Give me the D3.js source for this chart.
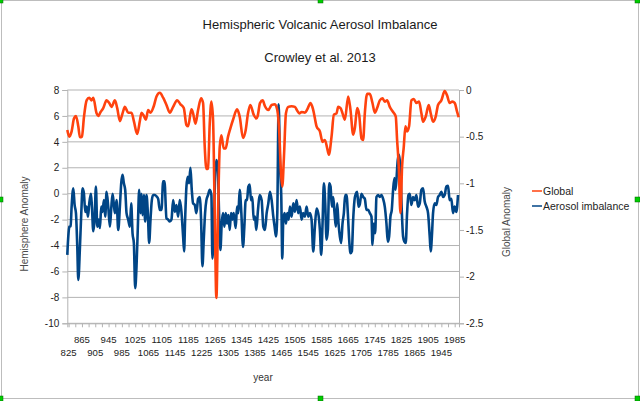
<!DOCTYPE html>
<html>
<head>
<meta charset="utf-8">
<script src="https://cdn.jsdelivr.net/npm/d3@7"></script>
<style>
  body { margin: 0; background: #fff; }
  svg { display: block; font-family: "Liberation Sans", Arial, sans-serif; }
</style>
</head>
<body>
<div id="chart"></div>
<script>
// Global series (right axis)
var globalYears = [821,827,834,841,847,854,859,865,871,879,887,894,899,909,914,921,929,939,947,954,964,971,979,987,994,
  1004,1014,1021,1031,1039,1044,1051,1057,1064,1071,1081,1089,1099,1109,1119,1129,1139,1151,1161,1171,1179,1184,1194,1199,
  1206,1214,1223,1229,1234,1239,1244,1249,1254,1259,1264,1269,1274,1279,1284,1291,1297,1304,1311,1319,1331,1339,1349,1357,
  1364,1371,1381,1389,1393,1400,1408,1415,1425,1435,1445,1452,1458,1463,1467,1472,1478,1485,1495,1505,1512,1518,1525,1535,
  1542,1552,1560,1570,1580,1588,1595,1602,1607,1615,1622,1630,1635,1642,1648,1655,1665,1672,1680,1685,1692,1698,1705,1710,
  1715,1722,1730,1738,1745,1752,1760,1768,1775,1782,1790,1800,1808,1812,1817,1822,1827,1832,1837,1842,1848,1855,1862,1870,
  1878,1885,1890,1898,1907,1913,1920,1928,1935,1945,1955,1962,1970,1978,1985,1992,1997];
var globalVals = [-0.428,-0.5,-0.444,-0.306,-0.278,-0.389,-0.507,-0.5,-0.292,-0.111,-0.083,-0.111,-0.083,-0.25,-0.278,-0.236,-0.194,-0.111,-0.139,-0.181,-0.111,-0.194,-0.333,-0.25,-0.181,
  -0.243,-0.243,-0.333,-0.472,-0.333,-0.243,-0.278,-0.319,-0.215,-0.243,-0.171,-0.069,-0.03,-0.083,-0.16,-0.243,-0.181,-0.111,-0.153,-0.194,-0.375,-0.389,-0.208,-0.25,
  -0.361,-0.215,-0.09,-0.139,-0.611,-0.847,-0.84,-0.361,-0.125,-0.319,-1.319,-2.229,-1.319,-0.611,-0.486,-0.625,-0.625,-0.5,-0.41,-0.319,-0.208,-0.285,-0.514,-0.431,
  -0.25,-0.16,-0.264,-0.306,-0.28,-0.14,-0.111,-0.174,-0.215,-0.16,-0.153,-0.215,-0.465,-0.889,-1.035,-0.715,-0.25,-0.181,-0.174,-0.181,-0.222,-0.25,-0.236,-0.243,
  -0.208,-0.139,-0.215,-0.389,-0.444,-0.556,-0.535,-0.625,-0.694,-0.5,-0.264,-0.25,-0.181,-0.194,-0.25,-0.319,-0.069,-0.215,-0.479,-0.41,-0.194,-0.264,-0.52,-0.535,
  -0.25,-0.042,-0.042,-0.139,-0.243,-0.194,-0.111,-0.09,-0.125,-0.111,-0.181,-0.236,-0.285,-0.535,-0.819,-1.319,-0.819,-0.611,-0.389,-0.444,-0.389,-0.111,-0.097,-0.139,
  -0.125,-0.25,-0.34,-0.285,-0.16,-0.25,-0.34,-0.285,-0.16,-0.111,-0.012,-0.056,-0.139,-0.125,-0.139,-0.229,-0.292];

// Aerosol imbalance series (left axis)
var aerosolYears = [821,824,827,831,834,839,843,847,851,854,859,863,867,871,875,879,883,887,892,895,899,903,907,911,915,919,923,927,931,935,939,944,949,953,957,961,964,969,974,979,983,987,991,995,999,
  1004,1009,1013,1017,1021,1025,1029,1033,1037,1041,1044,1047,1051,1055,1059,1063,1067,1071,1075,1079,1084,1089,1094,1099,1104,1109,1113,1119,1124,1129,1134,1139,1144,1149,1154,1159,1164,1169,1172,1175,1179,1183,1187,1191,1195,1199,
  1204,1209,1214,1219,1223,1227,1231,1235,1239,1244,1249,1254,1257,1261,1265,1269,1273,1277,1281,1285,1289,1293,1297,1301,1305,1309,1313,1317,1321,1327,1331,1335,1339,1344,1349,1353,1357,1361,1365,1369,1373,1377,1381,1385,1389,1394,1399,
  1405,1410,1415,1420,1425,1430,1435,1440,1444,1448,1452,1456,1460,1464,1467,1470,1474,1478,1482,1486,1490,1495,1500,1505,1510,1515,1520,1525,1530,1535,1540,1545,1550,1555,1560,1565,1570,1575,1580,1584,1588,1592,1596,
  1600,1604,1608,1612,1616,1620,1624,1628,1632,1636,1640,1644,1648,1652,1656,1660,1664,1668,1672,1676,1680,1684,1688,1692,1696,1700,1705,1710,1715,1720,1725,1730,1735,1738,1742,1746,1750,1755,1760,1765,1770,1775,1780,1784,1788,1792,1796,
  1800,1804,1807,1810,1814,1818,1822,1826,1830,1834,1838,1842,1846,1850,1855,1860,1865,1870,1875,1880,1885,1890,1895,1900,1905,1910,1913,1917,1920,1925,1930,1935,1940,1945,1950,1955,1960,1965,1970,1975,1980,1985,1990,1995];
var aerosolVals = [-4.72,-3.3,-2.55,-2.5,-1.0,0.42,-0.87,-1.5,-4.1,-6.65,-4.1,-1.5,0.42,0,-1.4,-1.0,-1.77,-0.75,0,-1.0,-2.9,-2.0,0.55,-2.55,-2.0,-2.65,-1.0,-1.4,-0.5,-1.77,0.15,-1.0,-2.55,-1.15,0,-0.87,-1.5,-0.5,-2.8,-1.0,0.8,1.45,0.8,0.3,-1.5,
  -2.0,-2.55,-0.75,-3.05,-3.8,-7.3,-5.6,-2.55,0.3,-1.5,0,-1.65,-0.1,-2.15,-0.1,-1.5,-3.8,-2.0,-0.5,-0.1,-0.1,-0.2,-0.4,-1.25,-1.25,0.95,0.95,-1.9,-2.0,-2.15,-2.0,-0.5,-1.4,-0.87,-1.77,-0.5,-1.4,-3.3,-4.45,-2.0,0.55,1.3,0.8,2.0,0.3,-0.75,
  -0.87,-1.5,-0.4,-0.25,-2.0,-5.6,-3.55,-1.5,-0.5,-0.1,0.3,-0.1,-5.0,-2.8,1.3,2.6,2.1,-1.5,-4.35,-2.3,-1.5,-2.55,-1.5,-2.3,-1.65,-2.8,-1.5,-2.0,-1.5,-2.65,-1.0,-1.5,0.3,-1.5,-4.1,-2.55,-0.5,-0.5,0.55,0.7,-0.5,-0.25,-2.0,-1.77,-2.8,-1.25,-0.1,
  -0.5,-2.55,-2.8,-1.5,-0.75,0.15,-0.5,-1.77,-2.55,-3.3,-1.5,6.9,2.35,-0.25,-5.0,-2.0,-1.5,-2.3,-1.5,-2.0,-1.0,-1.77,-0.75,-1.4,-0.5,-1.5,-1.0,-2.0,-1.5,-1.77,-1.0,-1.77,-1.5,-2.0,-4.45,-2.55,-1.15,-1.5,-2.8,-4.72,-2.3,0.8,-0.75,
  -3.55,-2.8,0.8,0.55,-1.0,-0.25,-1.5,-2.55,-0.75,-2.3,-3.3,-3.8,-2.3,-1.5,-0.1,-0.1,-1.5,-3.55,-4.6,-4.45,-2.0,-0.5,0,0.15,-1.0,-0.8,0,-0.25,-0.4,-1.25,-1.25,-1.5,-1.77,-3.95,-2.3,-3.05,-0.25,-0.1,-0.25,-0.1,-0.4,-1.0,-2.3,-3.7,-3.3,-1.77,-1.25,
  0.3,1.2,0.3,1.05,2.6,3.0,1.85,-1.25,-3.3,-3.7,-3.8,-1.5,-0.1,0,-0.87,-0.25,-0.5,-0.1,-1.0,-0.75,0.3,0.42,-0.6,-1.0,-1.5,-3.3,-4.45,-3.05,-1.5,-0.75,-0.87,-0.25,-0.1,0.15,-0.25,-0.1,0.55,0.6,-0.5,-0.4,-1.5,-1.0,-1.4,-0.1];

var leftTicks = [8, 6, 4, 2, 0, -2, -4, -6, -8, -10];
var rightTicks = [0, -0.5, -1, -1.5, -2, -2.5];
var yearLabels = d3.range(825, 1986, 40);
var yearMinor = d3.range(825, 1999, 20);

var width = 640, height = 401;
var plot = { left: 67.3, right: 459, top: 90, bottom: 323.3 };

var svg = d3.select("#chart").append("svg")
    .attr("width", width)
    .attr("height", height);

var x = d3.scaleLinear().domain([821, 1998]).range([plot.left, plot.right]);
var yL = d3.scaleLinear().domain([-10, 8]).range([plot.bottom, plot.top]);
var yR = d3.scaleLinear().domain([-2.5, 0]).range([plot.bottom, plot.top]);

// frame of the chart object
svg.append("rect")
    .attr("x", 1.5).attr("y", 0.5)
    .attr("width", 637).attr("height", 398)
    .attr("fill", "none").attr("stroke", "#bdbdbd");

// gridlines
svg.append("g").selectAll("line")
    .data(leftTicks)
    .enter().append("line")
    .attr("x1", plot.left).attr("x2", plot.right)
    .attr("y1", function(d) { return yL(d); })
    .attr("y2", function(d) { return yL(d); })
    .attr("stroke", "#b3b3b3");

// left axis
var gLeft = svg.append("g")
    .attr("transform", "translate(" + plot.left + ",0)")
    .call(d3.axisLeft(yL).tickValues(leftTicks).tickSize(5).tickPadding(3));

// right axis
var gRight = svg.append("g")
    .attr("transform", "translate(" + plot.right + ",0)")
    .call(d3.axisRight(yR).tickValues(rightTicks).tickSize(5).tickPadding(2)
        .tickFormat(function(d) { return d === 0 ? "0" : String(d).replace("\u2212", "-"); }));

// bottom minor ticks
var gBottom = svg.append("g")
    .attr("transform", "translate(0," + plot.bottom + ")")
    .call(d3.axisBottom(x).tickValues(yearMinor).tickSize(4).tickFormat(""));

[gLeft, gRight, gBottom].forEach(function(g) {
    g.select(".domain").attr("stroke", "#b3b3b3");
    g.selectAll(".tick line").attr("stroke", "#b3b3b3");
    g.selectAll(".tick text")
        .attr("fill", "#222")
        .style("font-family", "'Liberation Sans', Arial, sans-serif")
        .style("font-size", "10px");
});
gLeft.selectAll(".tick text").text(function(d) { return String(d); });

// year labels on two staggered rows
svg.append("g").selectAll("text")
    .data(yearLabels)
    .enter().append("text")
    .attr("x", function(d) { return x(d); })
    .attr("y", function(d, i) { return i % 2 === 0 ? 356 : 343; })
    .attr("text-anchor", "middle")
    .attr("font-size", "9.6px")
    .attr("fill", "#222")
    .text(function(d) { return d; });

// series
var blueLine = d3.line()
    .x(function(d) { return x(d[0]); })
    .y(function(d) { return yL(d[1]); })
    .curve(d3.curveMonotoneX);
var redLine = d3.line()
    .x(function(d) { return x(d[0]); })
    .y(function(d) { return yR(d[1]); })
    .curve(d3.curveMonotoneX);

svg.append("path")
    .datum(d3.zip(aerosolYears, aerosolVals))
    .attr("fill", "none")
    .attr("stroke", "#004586")
    .attr("stroke-width", 2.6)
    .attr("stroke-linejoin", "round")
    .attr("d", blueLine);

svg.append("path")
    .datum(d3.zip(globalYears, globalVals))
    .attr("fill", "none")
    .attr("stroke", "#ff420e")
    .attr("stroke-width", 2.6)
    .attr("stroke-linejoin", "round")
    .attr("d", redLine);

// titles
svg.append("text").attr("x", 320).attr("y", 28.5).attr("text-anchor", "middle")
    .attr("font-size", "13px").attr("fill", "#1a1a1a")
    .text("Hemispheric Volcanic Aerosol Imbalance");
svg.append("text").attr("x", 320).attr("y", 61.5).attr("text-anchor", "middle")
    .attr("font-size", "13px").attr("fill", "#1a1a1a")
    .text("Crowley et al. 2013");

svg.append("text").attr("x", 263).attr("y", 381).attr("text-anchor", "middle")
    .attr("font-size", "10px").attr("fill", "#333")
    .text("year");
svg.append("text")
    .attr("transform", "translate(27.5,224) rotate(-90)")
    .attr("text-anchor", "middle")
    .attr("font-size", "10px").attr("fill", "#4a4a4a")
    .text("Hemisphere Anomaly");
svg.append("text")
    .attr("transform", "translate(510,222) rotate(-90)")
    .attr("text-anchor", "middle")
    .attr("font-size", "10px").attr("fill", "#4a4a4a")
    .text("Global Anomaly");

// legend
var legend = [
    { name: "Global", color: "#ff420e", y: 191 },
    { name: "Aerosol imbalance", color: "#004586", y: 206 }
];
var lg = svg.append("g").selectAll("g").data(legend).enter().append("g");
lg.append("line")
    .attr("x1", 532).attr("x2", 542)
    .attr("y1", function(d) { return d.y; })
    .attr("y2", function(d) { return d.y; })
    .attr("stroke", function(d) { return d.color; })
    .attr("stroke-width", 1.5);
lg.append("text")
    .attr("x", 543)
    .attr("y", function(d) { return d.y + 4; })
    .attr("font-size", "10.5px").attr("fill", "#222")
    .text(function(d) { return d.name; });

// selection handles
var handles = [[0, 0], [320, 0], [637, 0], [0, 199], [637, 199], [0, 398], [320, 398], [637, 398]];
svg.append("g").selectAll("rect")
    .data(handles)
    .enter().append("rect")
    .attr("x", function(d) { return d[0] - 2; })
    .attr("y", function(d) { return d[1] - 2; })
    .attr("width", 5).attr("height", 5)
    .attr("fill", "#00cc00")
    .attr("stroke", "#006600")
    .attr("stroke-width", 0.5);
</script>
</body>
</html>
